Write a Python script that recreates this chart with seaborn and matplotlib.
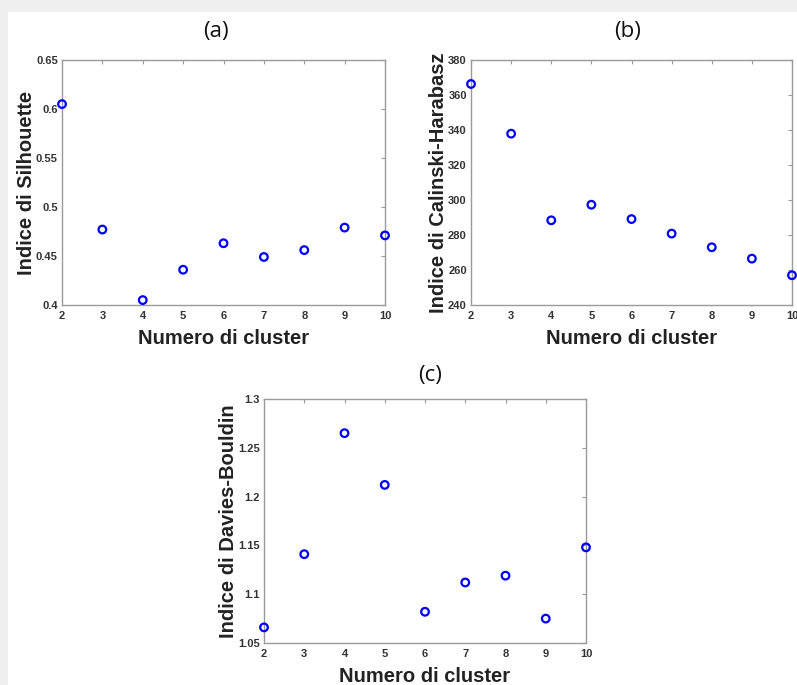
import matplotlib
matplotlib.use("Agg")
import matplotlib.pyplot as plt
import seaborn as sns
import pandas as pd
from matplotlib.patches import Rectangle

clusters = [2, 3, 4, 5, 6, 7, 8, 9, 10]
silhouette = [0.605, 0.477, 0.405, 0.436, 0.463, 0.449, 0.456, 0.479, 0.471]
calinski = [366.3, 337.9, 288.4, 297.3, 289.1, 280.8, 273.0, 266.5, 257.0]
davies = [1.066, 1.141, 1.265, 1.212, 1.082, 1.112, 1.119, 1.075, 1.148]

sil_ticks = [0.4, 0.45, 0.5, 0.55, 0.6, 0.65]
sil_labels = ["0.4", "0.45", "0.5", "0.55", "0.6", "0.65"]
ch_ticks = [240, 260, 280, 300, 320, 340, 360, 380]
ch_labels = ["240", "260", "280", "300", "320", "340", "360", "380"]
db_ticks = [1.05, 1.1, 1.15, 1.2, 1.25, 1.3]
db_labels = ["1.05", "1.1", "1.15", "1.2", "1.25", "1.3"]

titles = ["(a)", "(b)", "(c)"]
ylabels = ["Indice di Silhouette", "Indice di Calinski-Harabasz", "Indice di Davies-Bouldin"]
xlabel = "Numero di cluster"

sns.set_style("white")
plt.rcParams['font.family'] = ['Liberation Sans', 'DejaVu Sans']

W, H = 797, 685
fig = plt.figure(figsize=(W / 100, H / 100), dpi=100)
fig.patch.set_facecolor("white")
# gray frame strips (top and left)
fig.patches.append(Rectangle((0, 0), 8 / W, 1, transform=fig.transFigure,
                             facecolor="#f0f0f0", edgecolor="none", zorder=0))
fig.patches.append(Rectangle((0, 1 - 12 / H), 1, 12 / H, transform=fig.transFigure,
                             facecolor="#f0f0f0", edgecolor="none", zorder=0))

def px_axes(left, top, right, bottom):
    return fig.add_axes([left / W, 1 - bottom / H, (right - left) / W, (bottom - top) / H])

axes_specs = [
    (62, 60, 385, 305),
    (471, 60, 792, 305),
    (264, 399, 586, 643),
]
series = [silhouette, calinski, davies]
ticks = [(sil_ticks, sil_labels), (ch_ticks, ch_labels), (db_ticks, db_labels)]
title_pos = [(216, 31), (628, 31), (430, 376)]

for i in range(3):
    ax = px_axes(*axes_specs[i])
    df = pd.DataFrame({"k": clusters, "v": series[i]})
    sns.scatterplot(data=df, x="k", y="v", ax=ax, marker="o", s=30,
                    facecolor="none", edgecolor="#0000ff", linewidth=1.6,
                    clip_on=False, zorder=5)
    yt, yl = ticks[i]
    ax.set_xlim(2, 10)
    ax.set_ylim(yt[0], yt[-1])
    ax.set_xticks(clusters)
    ax.set_xticklabels([str(c) for c in clusters])
    ax.set_yticks(yt)
    ax.set_yticklabels(yl)
    ax.tick_params(direction="in", length=3, width=0.8, color="#9a9a9a",
                   top=True, right=True, labelsize=8, labelcolor="#333333")
    ax.tick_params(axis="x", pad=4)
    ax.tick_params(axis="y", pad=3)
    for lab in ax.get_xticklabels() + ax.get_yticklabels():
        lab.set_fontweight("bold")
    for sp in ax.spines.values():
        sp.set_visible(True)
        sp.set_color("#9a9a9a")
        sp.set_linewidth(1.0)
    ax.set_xlabel(xlabel, fontsize=14.5, fontweight="bold", color="#222222", labelpad=6)
    ax.set_ylabel(ylabels[i], fontsize=14.5, fontweight="bold", color="#222222", labelpad=0)
    tx, ty = title_pos[i]
    fig.text(tx / W, 1 - ty / H, titles[i], ha="center", va="center",
             fontsize=16, color="#111111", family=["Open Sans", "DejaVu Sans"])

fig.savefig("out.png", dpi=100)
